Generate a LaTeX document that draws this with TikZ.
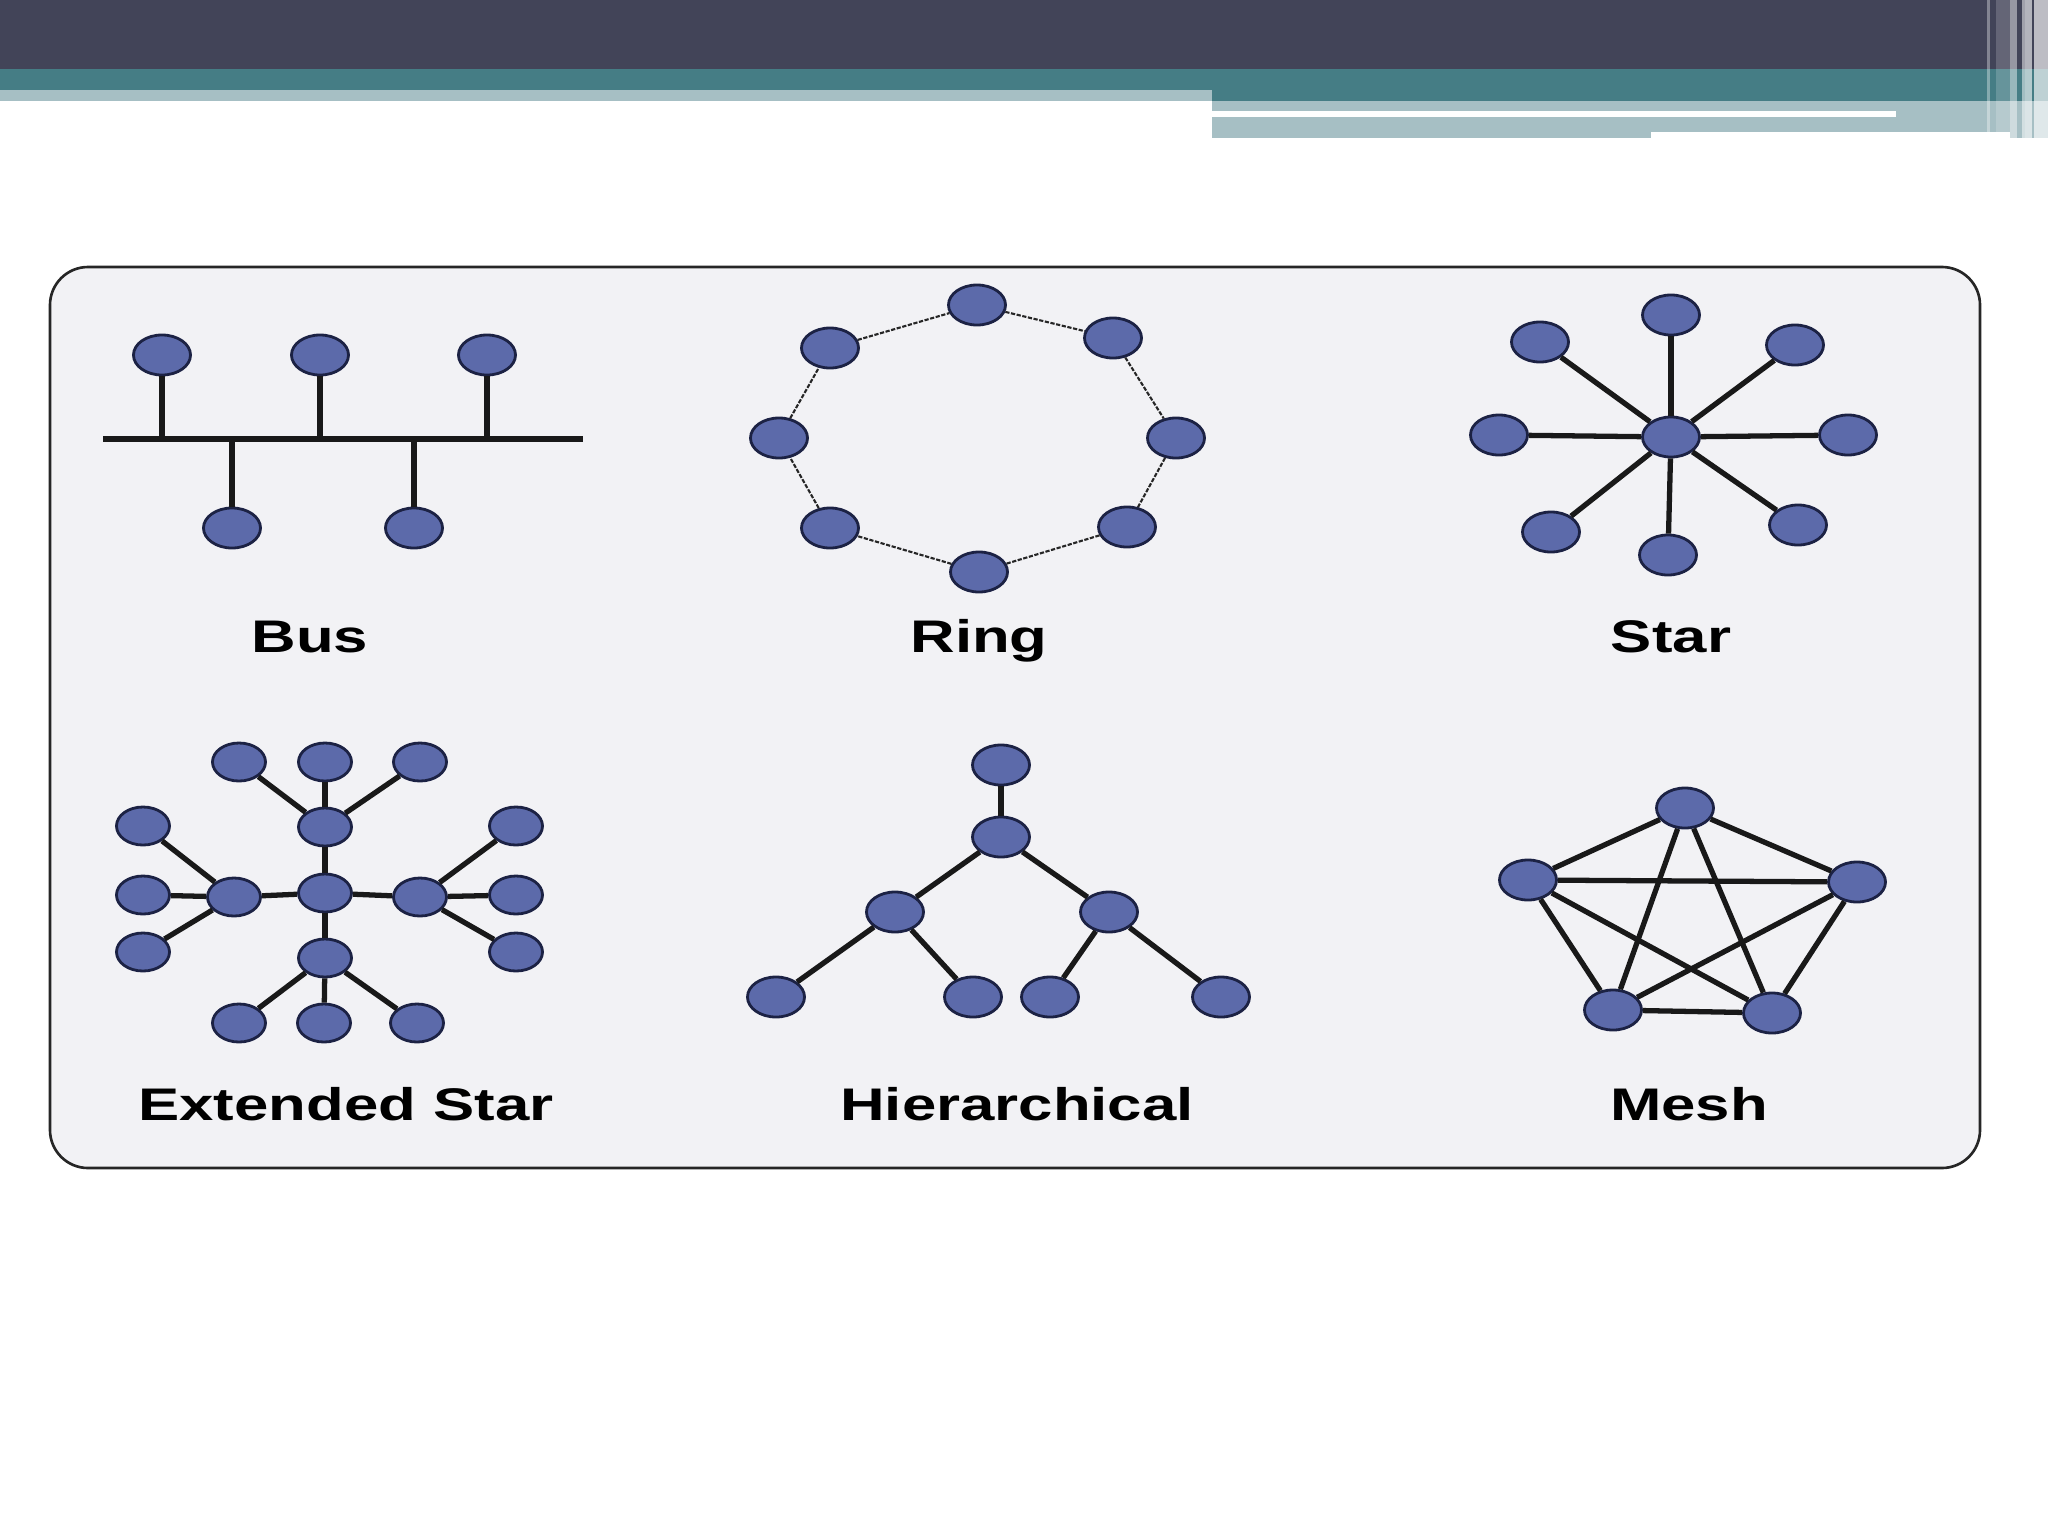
\documentclass[tikz,border=0pt]{standalone}
\usepackage{fontspec}
\setmainfont{Liberation Sans}
\usetikzlibrary{shapes.geometric}
\definecolor{bannerdark}{RGB}{66,68,88}
\definecolor{bannerteal}{RGB}{69,125,133}
\definecolor{bannerlight}{RGB}{166,191,196}
\definecolor{panelfill}{RGB}{242,242,245}
\definecolor{hostfill}{RGB}{92,106,170}
\definecolor{hostline}{RGB}{28,34,68}
\tikzset{Host Style/.style={ellipse, draw=hostline, fill=hostfill, line width=0.8pt, minimum width=0.57cm, minimum height=0.4cm, inner sep=0pt},
	Small Host/.style={Host Style, minimum width=0.53cm, minimum height=0.38cm},
	Link Style/.style={line width=1.5pt, draw=black!90},
	Ring Link/.style={line width=0.6pt, draw=black!85, dash pattern=on 1.2pt off 0.45pt},
	Topo Name/.style={font=\bfseries\fontsize{13}{15}\selectfont, anchor=base, xscale=1.35, inner sep=0pt}}

\begin{document}
\begin{tikzpicture}[x=0.01cm, y=-0.01cm]
		\useasboundingbox (0,0) rectangle (2048,1536);
		% banner
		\fill[bannerdark] (0,0) rectangle (2048,69);
		\fill[bannerteal] (0,69) rectangle (2048,101);
		\fill[bannerlight] (0,90) rectangle (1212,101);
		\fill[bannerlight] (1212,101) rectangle (2048,132);
		\fill[bannerlight] (1212,132) rectangle (1651,138);
		\fill[bannerlight] (2010,132) rectangle (2048,138);
		\fill[white] (1212,111) rectangle (1896,117);
		\foreach \xa/\xb/\yb/\op in {1987/1990/132/0.35, 1996/2010/132/0.18, 2010/2017/138/0.45, 2022/2025/138/0.5, 2025/2032/138/0.6, 2034/2048/138/0.65}{%
			\fill[white, opacity=\op] (\xa,0) rectangle (\xb,\yb);
		}
		
		\draw[line width=0.75pt, draw=black!85, fill=panelfill, rounded corners=0.38cm] (50,267) rectangle (1980,1168);
		
		% Bus
		\coordinate (busL) at (103,439);
		\coordinate (busR) at (583,439);
		\draw[Link Style] (busL) -- (busR);
		\foreach \n/\x/\y in {bus1/162/355, bus2/320/355, bus3/487/355, bus4/232/528, bus5/414/528}{%
			\node[Host Style] (\n) at (\x,\y) {};
			\draw[Link Style] (\n) -- (\n |- busL);
		}
		\node[Topo Name] (busname) at (310,652) {Bus};
		
		% Ring
		\foreach \n/\x/\y in {ring1/977/305, ring2/1113/338, ring3/1176/438, ring4/1127/527, ring5/979/572, ring6/830/528, ring7/779/438, ring8/830/348}{%
			\node[Host Style] (\n) at (\x,\y) {};
		}
		\foreach \a/\b in {ring1/ring2, ring2/ring3, ring3/ring4, ring4/ring5, ring5/ring6, ring6/ring7, ring7/ring8, ring8/ring1}{%
			\draw[Ring Link] (\a) -- (\b);
		}
		\node[Topo Name] (ringname) at (979,652) {Ring};
		
		% Star
		\node[Host Style] (star0) at (1671,437) {};
		\foreach \n/\x/\y in {star1/1671/315, star2/1795/345, star3/1848/435, star4/1798/525, star5/1668/555, star6/1551/532, star7/1499/435, star8/1540/342}{%
			\node[Host Style] (\n) at (\x,\y) {};
			\draw[Link Style] (star0) -- (\n);
		}
		\node[Topo Name] (starname) at (1671,652) {Star};
		
		% Extended Star
		\node[Small Host] (ext0) at (325,893) {};
		\foreach \h/\x/\y in {extT/325/827, extL/234/897, extR/420/897, extB/325/958}{%
			\node[Small Host] (\h) at (\x,\y) {};
			\draw[Link Style] (ext0) -- (\h);
		}
		\foreach \n/\h/\x/\y in {extT1/extT/239/762, extT2/extT/325/762, extT3/extT/420/762,
			extL1/extL/143/826, extL2/extL/143/895, extL3/extL/143/952,
			extR1/extR/516/826, extR2/extR/516/895, extR3/extR/516/952,
			extB1/extB/239/1023, extB2/extB/324/1023, extB3/extB/417/1023}{%
			\node[Small Host] (\n) at (\x,\y) {};
			\draw[Link Style] (\h) -- (\n);
		}
		\node[Topo Name] (extname) at (346,1120) {Extended Star};
		
		% Hierarchical
		\foreach \n/\x/\y in {hier1/1001/765, hier2/1001/837, hier3/895/912, hier4/1109/912, hier5/776/997, hier6/973/997, hier7/1050/997, hier8/1221/997}{%
			\node[Host Style] (\n) at (\x,\y) {};
		}
		\foreach \a/\b in {hier1/hier2, hier2/hier3, hier2/hier4, hier3/hier5, hier3/hier6, hier4/hier7, hier4/hier8}{%
			\draw[Link Style] (\a) -- (\b);
		}
		\node[Topo Name] (hiername) at (1017,1120) {Hierarchical};
		
		% Mesh
		\foreach \n/\x/\y in {mesh1/1685/808, mesh2/1857/882, mesh3/1772/1013, mesh4/1613/1010, mesh5/1528/880}{%
			\node[Host Style] (\n) at (\x,\y) {};
		}
		\foreach \a/\b in {mesh1/mesh2, mesh1/mesh3, mesh1/mesh4, mesh1/mesh5, mesh2/mesh3, mesh2/mesh4, mesh2/mesh5, mesh3/mesh4, mesh3/mesh5, mesh4/mesh5}{%
			\draw[Link Style] (\a) -- (\b);
		}
		\node[Topo Name] (meshname) at (1689,1120) {Mesh};
	\end{tikzpicture}
\end{document}
